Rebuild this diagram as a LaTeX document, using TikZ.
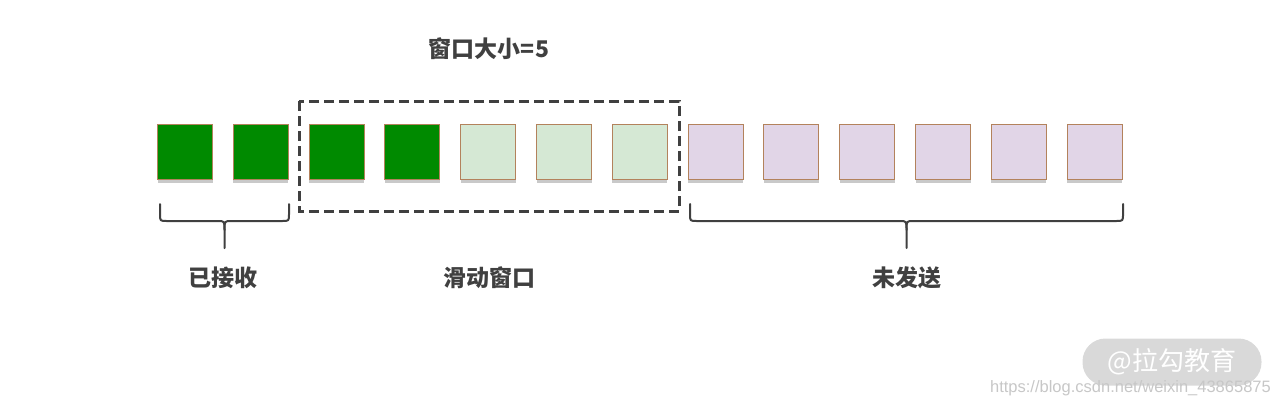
\documentclass[tikz,border=0pt]{standalone}
\usepackage{fontspec}
\newfontfamily\cjk{Noto Sans CJK SC}
\newfontfamily\urlfont{Liberation Sans}
\usetikzlibrary{shadows}
\definecolor{sentgreen}{HTML}{008A00}
\definecolor{wingreen}{HTML}{D5E8D4}
\definecolor{unsentpurple}{HTML}{E1D5E7}
\definecolor{pktedge}{HTML}{B3825C}
\definecolor{inkgray}{HTML}{404040}
\definecolor{markgray}{HTML}{D9D9D9}

% bracket below a group of packets: left x, right x, name of tip
\newcommand\groupbrace[3]{%
  \pgfmathsetmacro\bmid{(#1+#2)/2}
  \draw[brace] (#1,204) -- (#1,214) .. controls (#1,221) .. ({#1+7},221) -- ({\bmid-7},221) .. controls (\bmid,221) .. (\bmid,230) -- (\bmid,248) coordinate (#3);
  \draw[brace] (#2,204) -- (#2,214) .. controls (#2,221) .. ({#2-7},221) -- ({\bmid+7},221) .. controls (\bmid,221) .. (\bmid,230);
}

\begin{document}
\begin{tikzpicture}[x=1pt, y=-1pt,
  pkt/.style={draw=pktedge, line width=1pt, minimum size=55pt, inner sep=0pt,
    drop shadow={shadow xshift=0pt, shadow yshift=-3pt, opacity=0.3, fill=black!70}},
  brace/.style={draw=inkgray, line width=2pt, line cap=round},
  window/.style={draw=inkgray, line width=3pt, dash pattern=on 10pt off 5pt},
  lbl/.style={font=\cjk\bfseries\fontsize{23}{23}\selectfont, text=inkgray}]
  \useasboundingbox (0,0) rectangle (1280,407);

  % packets
  \foreach \i in {1,...,4} {
    \pgfmathsetmacro\bx{185+75.8*(\i-1)}
    \node[pkt, fill=sentgreen] (p\i) at (\bx,152) {};
  }
  \foreach \i in {5,6,7} {
    \pgfmathsetmacro\bx{185+75.8*(\i-1)}
    \node[pkt, fill=wingreen] (p\i) at (\bx,152) {};
  }
  \foreach \i in {8,...,13} {
    \pgfmathsetmacro\bx{185+75.8*(\i-1)}
    \node[pkt, fill=unsentpurple] (p\i) at (\bx,152) {};
  }

  % sliding window
  \draw[window] (299,101) rectangle (679,211);
  \node[lbl] (sizelbl) at (489,49) {窗口大小=5};

  % brackets
  \groupbrace{160}{289}{recvtip}
  \groupbrace{690}{1123}{unsenttip}

  \node[lbl] (recvlbl) at (223,278) {已接收};
  \node[lbl] (slidelbl) at (489,278) {滑动窗口};
  \node[lbl] (unsentlbl) at (906.5,278) {未发送};

  % watermark
  \node[fill=markgray, rounded corners=23pt, minimum width=179pt, minimum height=47pt,
    text=white, font=\cjk\fontsize{26}{26}\selectfont] (mark) at (1172,362) {@拉勾教育};
  \node[font=\urlfont\fontsize{16.5}{16.5}\selectfont, text=black!22, anchor=east, inner sep=0pt]
    (url) at (1271,388) {https://blog.csdn.net/weixin\_43865875};
\end{tikzpicture}
\end{document}
